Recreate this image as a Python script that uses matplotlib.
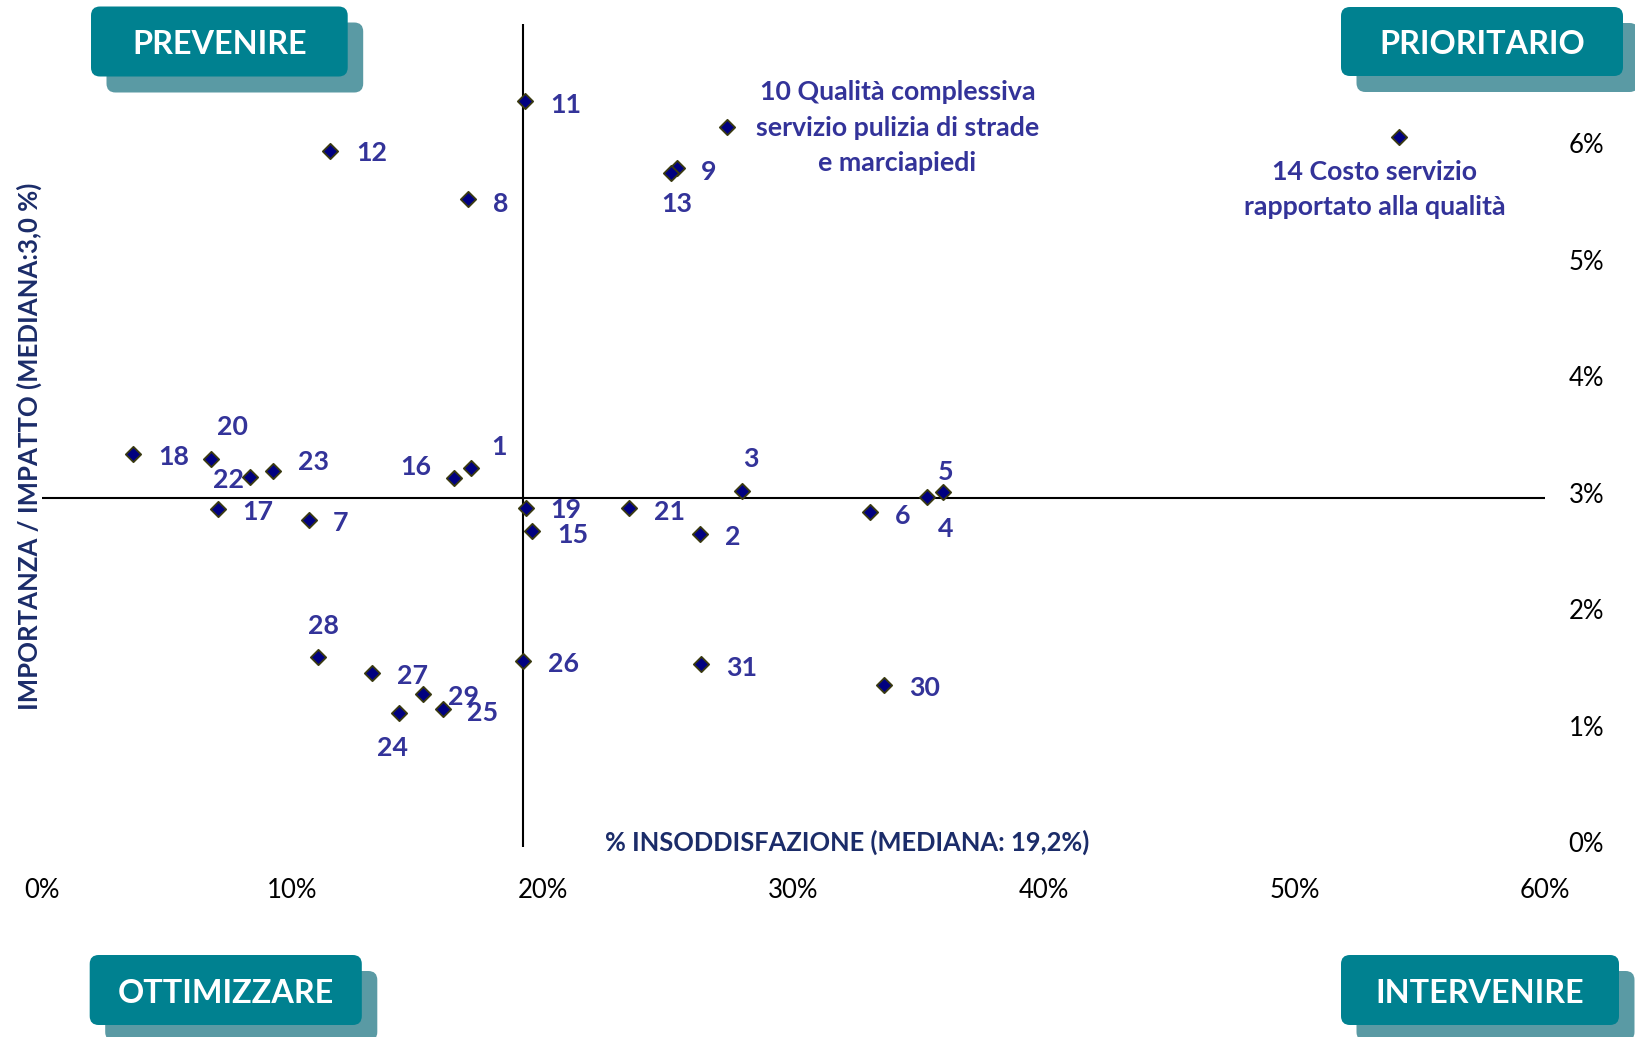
import matplotlib
matplotlib.use("Agg")
import matplotlib.pyplot as plt
import matplotlib.transforms as mtransforms
from matplotlib.patches import FancyBboxPatch
from matplotlib.ticker import FuncFormatter

plt.rcParams['font.family'] = ['Lato', 'DejaVu Sans']

# --- data -----------------------------------------------------------------
item_ids = list(range(1, 32))
dissatisfaction = [17.13, 26.28, 27.94, 35.32, 35.96, 33.06, 10.67, 17.03, 25.38, 27.37,
                   19.29, 11.53, 25.11, 54.16, 19.58, 16.47, 7.04, 3.65, 19.32, 6.75,
                   23.46, 8.32, 9.23, 14.27, 16.01, 19.20, 13.19, 11.02, 15.21, 33.63,
                   26.31]
importance = [3.255, 2.686, 3.06, 3.003, 3.046, 2.877, 2.81, 5.56, 5.83, 6.185,
              6.408, 5.974, 5.79, 6.094, 2.71, 3.17, 2.90, 3.375, 2.91, 3.33,
              2.914, 3.175, 3.23, 1.155, 1.184, 1.598, 1.498, 1.63, 1.312, 1.392,
              1.571]
point_labels = [str(i) for i in item_ids]
point_labels[9] = "10 Qualità complessiva\nservizio pulizia di strade\ne marciapiedi"
point_labels[13] = "14 Costo servizio\nrapportato alla qualità"

median_dissatisfaction = 19.2
median_importance = 3.0

x_ticks = [0, 10, 20, 30, 40, 50, 60]
y_ticks = [0, 1, 2, 3, 4, 5, 6]

quadrant_names = ["PREVENIRE", "PRIORITARIO", "OTTIMIZZARE", "INTERVENIRE"]
x_title = "% INSODDISFAZIONE (MEDIANA: 19,2%)"
y_title = "IMPORTANZA / IMPATTO (MEDIANA:3,0 %)"

# label offsets from each point, in pixels (dx right, dy down)
label_offsets = {
    1: (28.6, -21), 2: (32.3, 2.4), 3: (9.3, -31.4), 4: (19, 32), 5: (3.3, -20),
    6: (32.7, 4), 7: (31.5, 3.4), 8: (32.3, 4.1), 9: (31.5, 4.4), 10: (170, 1),
    11: (41, 4.3), 12: (41.7, 2.1), 13: (6.1, 31.7), 14: (-23.7, 52.4), 15: (40.3, 3.9),
    16: (-38.2, -11), 17: (40, 2.7), 18: (41, 3.3), 19: (40.5, 2.2), 20: (22.2, -32),
    21: (40, 4), 22: (-21.4, 2.7), 23: (40.3, -8.7), 24: (-6.3, 35.6), 25: (40, 4),
    26: (40.6, 3), 27: (40.7, 3.3), 28: (5.6, -31.6), 29: (40.6, 2.4), 30: (40.7, 3.2),
    31: (40.7, 4.2),
}

# --- styling ----------------------------------------------------------------
W, H = 1635, 1037
LABEL_BLUE = "#333399"
TITLE_NAVY = "#1B2C69"
BOX_MAIN = "#008190"
BOX_SHADOW = "#5A9AA4"

fig = plt.figure(figsize=(W / 100, H / 100), dpi=100)

# pixel-space overlay for the quadrant badges and axis titles
ov = fig.add_axes([0, 0, 1, 1], zorder=0)
ov.set_xlim(0, W)
ov.set_ylim(H, 0)
ov.axis("off")

left, right, bottom, top = 41.5, 1545.0, 847.2, 23.5
ax = fig.add_axes([left / W, 1 - bottom / H, (right - left) / W, (bottom - top) / H], zorder=1)
ax.patch.set_alpha(0)
ax.set_xlim(0, 60)
ax.set_ylim(0, (bottom - top) / 116.5)
for s in ax.spines.values():
    s.set_visible(False)

ax.axhline(median_importance, color="black", lw=1.5, zorder=1)
ax.axvline(median_dissatisfaction, color="black", lw=1.5, zorder=1)

ax.scatter(dissatisfaction, importance, marker="D", s=7.8 ** 2, facecolor="#000080",
           edgecolor="#3A3A10", linewidths=1.3, zorder=3)

for i, (xv, yv, txt) in enumerate(zip(dissatisfaction, importance, point_labels)):
    dx, dy = label_offsets[i + 1]
    ax.annotate(txt, (xv, yv), xytext=(dx * 0.72, -dy * 0.72), textcoords="offset points",
                ha="center", va="center", multialignment="center", fontsize=19.3,
                fontweight="bold", color=LABEL_BLUE, linespacing=1.56, zorder=4)

ax.set_xticks(x_ticks)
ax.set_yticks(y_ticks)
ax.xaxis.set_major_formatter(FuncFormatter(lambda v, p: f"{v:.0f}%"))
ax.yaxis.set_major_formatter(FuncFormatter(lambda v, p: f"{v:.0f}%"))
ax.yaxis.tick_right()
ax.tick_params(axis="x", length=0, pad=22, labelsize=18.5, labelcolor="black")
ax.tick_params(axis="y", length=0, pad=17, labelsize=18.5, labelcolor="black")
lift = mtransforms.ScaledTranslation(0, 5 / 100, fig.dpi_scale_trans)
for lbl in ax.get_yticklabels():
    lbl.set_transform(lbl.get_transform() + lift)

# axis titles
ov.text(846.7, 842.5, x_title, ha="center", va="center", fontsize=18.4,
        fontweight="bold", color=TITLE_NAVY)
ov.text(29, 446, y_title, ha="center", va="center", rotation=90, fontsize=18.5,
        fontweight="bold", color=TITLE_NAVY)

# quadrant badges: (x0, y0, x1, y1) of the front box in pixels
badge_boxes = [(91, 6.5, 347.7, 76.5), (1341, 7, 1623, 76),
               (89.7, 955, 361.8, 1025), (1341, 955, 1619, 1025)]
for name, (x0, y0, x1, y1) in zip(quadrant_names, badge_boxes):
    sh = FancyBboxPatch((x0 + 15.5 + 8, y0 + 16 + 8), x1 - x0 - 16, y1 - y0 - 16,
                        boxstyle="round,pad=8,rounding_size=9", linewidth=0,
                        facecolor=BOX_SHADOW, zorder=1, clip_on=False)
    ov.add_patch(sh)
    fr = FancyBboxPatch((x0 + 8, y0 + 8), x1 - x0 - 16, y1 - y0 - 16,
                        boxstyle="round,pad=8,rounding_size=9", linewidth=0,
                        facecolor=BOX_MAIN, zorder=2, clip_on=False)
    ov.add_patch(fr)
    ov.text((x0 + x1) / 2, (y0 + y1) / 2 + 3.5, name, ha="center", va="center",
            fontsize=23.3, fontweight="bold", color="white", zorder=3)

fig.savefig("out.png", dpi=100)
